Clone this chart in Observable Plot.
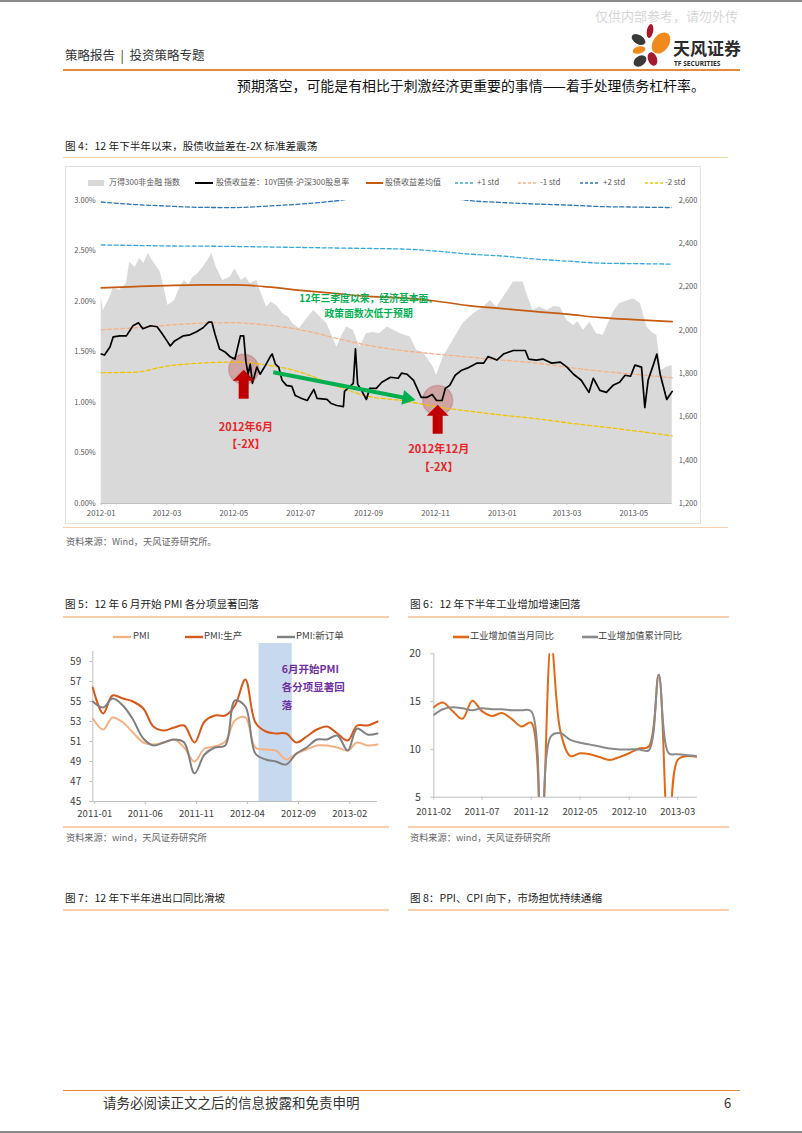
<!DOCTYPE html>
<html><head><meta charset="utf-8">
<script src="https://cdn.jsdelivr.net/npm/d3@7"></script>
<script src="https://cdn.jsdelivr.net/npm/@observablehq/plot@0.6"></script>
<style>
body{margin:0;background:#fff;}
#page{position:relative;width:802px;height:1133px;overflow:hidden;background:#fff;font-family:"Noto Sans CJK SC","Noto Sans",sans-serif;color:#333;}
.t{position:absolute;white-space:nowrap;line-height:1;}
.r{position:absolute;}
.plot{position:absolute;}
.plot svg{overflow:visible;}
</style></head><body><div id="page">
<div class="r" style="left:0;top:0;width:802px;height:2px;background:#8a8a8a"></div>
<div class="r" style="left:0;top:1131px;width:802px;height:2px;background:#8a8a8a"></div>
<div class="t" style="left:595px;top:9px;font-size:13px;color:#d6d6d6">仅供内部参考，请勿外传</div>
<svg class="r" style="left:628px;top:22px" width="115" height="50">
  <ellipse cx="22" cy="9" rx="3.2" ry="7" transform="rotate(10 22 9)" fill="#a6192e"/>
  <ellipse cx="10.5" cy="17.5" rx="7.5" ry="4.5" transform="rotate(30 10.5 17.5)" fill="#3a3a3a"/>
  <ellipse cx="33" cy="21" rx="8" ry="11.5" transform="rotate(35 33 21)" fill="#f08a1c"/>
  <ellipse cx="11" cy="28" rx="6.5" ry="3.5" transform="rotate(-15 11 28)" fill="#f08a1c"/>
  <ellipse cx="12" cy="39" rx="7" ry="5" transform="rotate(-35 12 39)" fill="#3a3a3a"/>
  <ellipse cx="24.5" cy="37" rx="4.5" ry="7" transform="rotate(-20 24.5 37)" fill="#a6192e"/>
  <text x="45" y="33" font-size="17" font-weight="bold" fill="#2b2b2b" font-family="Noto Sans CJK SC">天风证券</text>
  <text x="46" y="44" font-size="6.6" font-weight="bold" fill="#2b2b2b" font-family="Noto Sans">TF SECURITIES</text>
</svg>
<div class="t" style="left:65px;top:49px;font-size:12.5px;color:#333">策略报告 &nbsp;|&nbsp; 投资策略专题</div>
<div class="r" style="left:63px;top:69px;width:677px;height:1.6px;background:#e8893a"></div>
<div class="t" style="left:237px;top:79.4px;font-size:13.9px;color:#111">预期落空，可能是有相比于刺激经济更重要的事情——着手处理债务杠杆率。</div>

<div class="t" style="left:65px;top:141px;font-size:10.6px;color:#222">图 4：12 年下半年以来，股债收益差在-2X 标准差震荡</div>
<div class="r" style="left:63px;top:156.5px;width:665px;height:1.6px;background:#f7cfac"></div>
<div class="r" style="left:65px;top:166px;width:634px;height:356px;border:1px solid #e3e3e3"></div>
<div id="leg4"></div>
<div id="fig4" class="plot" style="left:66px;top:190px"></div>
<div class="r" style="left:63px;top:526.5px;width:665px;height:1.6px;background:#f7cfac"></div>
<div class="t" style="left:66px;top:537px;font-size:9.2px;color:#666">资料来源：Wind，天风证券研究所。</div>

<div class="t" style="left:65px;top:599px;font-size:10.6px;color:#222">图 5：12 年 6 月开始 PMI 各分项显著回落</div>
<div class="r" style="left:63px;top:616px;width:326px;height:1.6px;background:#f7cfac"></div>
<div class="t" style="left:410px;top:599px;font-size:10.6px;color:#222">图 6：12 年下半年工业增加增速回落</div>
<div class="r" style="left:408px;top:616px;width:321px;height:1.6px;background:#f7cfac"></div>
<div id="leg5"></div>
<div id="leg6"></div>
<div id="fig5" class="plot" style="left:55px;top:645px"></div>
<div id="fig6" class="plot" style="left:400px;top:645px"></div>
<div class="r" style="left:63px;top:826px;width:326px;height:1.6px;background:#f7cfac"></div>
<div class="r" style="left:408px;top:826px;width:321px;height:1.6px;background:#f7cfac"></div>
<div class="t" style="left:66px;top:833px;font-size:9.2px;color:#666">资料来源：wind，天风证券研究所</div>
<div class="t" style="left:410px;top:833px;font-size:9.2px;color:#666">资料来源：wind，天风证券研究所</div>

<div class="t" style="left:65px;top:893px;font-size:10.6px;color:#222">图 7：12 年下半年进出口同比滑坡</div>
<div class="r" style="left:63px;top:909px;width:326px;height:1.6px;background:#f7cfac"></div>
<div class="t" style="left:410px;top:893px;font-size:10.6px;color:#222">图 8：PPI、CPI 向下，市场担忧持续通缩</div>
<div class="r" style="left:408px;top:909px;width:321px;height:1.6px;background:#f7cfac"></div>

<div class="r" style="left:63px;top:1090px;width:677px;height:1.2px;background:#e8893a"></div>
<div class="t" style="left:103px;top:1096px;font-size:13.5px;color:#333">请务必阅读正文之后的信息披露和免责申明</div>
<div class="t" style="left:724px;top:1096px;font-size:13px;color:#333">6</div>
</div>
<script>
// ---------------- Figure 4 data ----------------
const idxDates = ["2012-01-01","2012-01-03","2012-01-09","2012-01-12","2012-01-18","2012-01-24","2012-01-27","2012-02-01","2012-02-05","2012-02-09","2012-02-13","2012-02-17","2012-02-21","2012-02-24","2012-03-02","2012-03-08","2012-03-13","2012-03-17","2012-03-21","2012-03-25","2012-03-29","2012-04-03","2012-04-07","2012-04-11","2012-04-15","2012-04-21","2012-04-28","2012-05-02","2012-05-08","2012-05-12","2012-05-16","2012-05-22","2012-05-25","2012-05-31","2012-06-04","2012-06-09","2012-06-15","2012-06-20","2012-06-24","2012-06-30","2012-07-06","2012-07-13","2012-07-19","2012-07-25","2012-08-03","2012-08-08","2012-08-12","2012-08-18","2012-08-24","2012-08-30","2012-09-05","2012-09-11","2012-09-18","2012-09-24","2012-09-30","2012-10-09","2012-10-15","2012-10-20","2012-10-24","2012-10-30","2012-11-02","2012-11-08","2012-11-17","2012-11-26","2012-12-02","2012-12-08","2012-12-15","2012-12-21","2012-12-27","2013-01-02","2013-01-07","2013-01-11","2013-01-20","2013-01-24","2013-01-29","2013-02-04","2013-02-11","2013-02-17","2013-02-23","2013-03-01","2013-03-07","2013-03-11","2013-03-16","2013-03-22","2013-03-28","2013-04-03","2013-04-09","2013-04-13","2013-04-18","2013-04-24","2013-05-01","2013-05-07","2013-05-13","2013-05-19","2013-05-22","2013-05-26","2013-05-31","2013-06-05"];
const idxValues = [2153,2092,2153,2193,2185,2216,2315,2290,2332,2310,2355,2320,2292,2269,2115,2138,2200,2230,2210,2246,2260,2292,2320,2356,2292,2230,2246,2284,2230,2245,2216,2230,2184,2107,2130,2115,2076,2060,2030,2007,2050,2092,2061,2030,1922,1980,2015,2000,1922,1984,1990,1984,2015,2000,1984,1969,1907,1900,1876,1830,1791,1876,1953,2030,2061,2085,2107,2138,2107,2153,2190,2223,2223,2160,2092,2107,2092,2110,2107,2046,2023,2040,2000,2038,1984,1977,2046,2090,2123,2135,2146,2123,2015,1984,1977,1815,1830,1838];

const spreadDates = ["2012-01-01","2012-01-04","2012-01-09","2012-01-12","2012-01-18","2012-01-24","2012-01-30","2012-02-04","2012-02-08","2012-02-15","2012-02-21","2012-02-25","2012-03-01","2012-03-04","2012-03-08","2012-03-16","2012-03-22","2012-03-28","2012-04-03","2012-04-08","2012-04-11","2012-04-14","2012-04-18","2012-04-23","2012-04-28","2012-05-02","2012-05-07","2012-05-10","2012-05-12","2012-05-14","2012-05-16","2012-05-18","2012-05-22","2012-05-25","2012-05-30","2012-06-03","2012-06-05","2012-06-08","2012-06-11","2012-06-14","2012-06-18","2012-06-23","2012-06-26","2012-07-02","2012-07-07","2012-07-13","2012-07-16","2012-07-25","2012-07-29","2012-08-03","2012-08-09","2012-08-10","2012-08-15","2012-08-18","2012-08-20","2012-08-22","2012-08-26","2012-08-30","2012-09-02","2012-09-08","2012-09-13","2012-09-21","2012-09-28","2012-10-01","2012-10-06","2012-10-12","2012-10-19","2012-10-24","2012-10-29","2012-11-02","2012-11-07","2012-11-10","2012-11-14","2012-11-19","2012-11-25","2012-11-30","2012-12-09","2012-12-15","2012-12-19","2012-12-27","2013-01-02","2013-01-11","2013-01-22","2013-01-25","2013-02-01","2013-02-07","2013-02-15","2013-02-23","2013-03-01","2013-03-07","2013-03-14","2013-03-21","2013-03-25","2013-03-31","2013-04-06","2013-04-12","2013-04-18","2013-04-23","2013-04-28","2013-05-02","2013-05-08","2013-05-11","2013-05-14","2013-05-19","2013-05-22","2013-05-25","2013-05-31","2013-06-05"];
const spreadValues = [1.48,1.47,1.55,1.65,1.66,1.66,1.76,1.79,1.73,1.76,1.75,1.69,1.61,1.56,1.61,1.66,1.67,1.70,1.74,1.795,1.795,1.67,1.53,1.50,1.45,1.43,1.66,1.66,1.41,1.28,1.38,1.19,1.35,1.28,1.37,1.45,1.48,1.38,1.35,1.22,1.17,1.16,1.07,1.04,1.02,1.13,1.04,1.03,0.99,0.97,0.96,1.11,1.16,1.19,1.53,1.18,1.11,1.03,1.14,1.14,1.20,1.25,1.24,1.29,1.28,1.22,1.05,1.05,1.08,1.02,1.02,1.14,1.17,1.27,1.32,1.34,1.39,1.39,1.455,1.42,1.48,1.515,1.515,1.43,1.42,1.43,1.39,1.40,1.35,1.28,1.22,1.10,1.24,1.12,1.10,1.17,1.20,1.27,1.26,1.37,1.35,0.95,1.22,1.38,1.48,1.28,1.03,1.11];

const bandDates = ["2012-01-01","2012-02-01","2012-03-01","2012-04-01","2012-05-01","2012-06-01","2012-07-01","2012-08-01","2012-09-01","2012-10-01","2012-11-01","2012-12-01","2013-01-01","2013-02-01","2013-03-01","2013-04-01","2013-05-01","2013-06-05"];
const meanValues   = [2.135,2.148,2.158,2.165,2.165,2.145,2.110,2.080,2.050,2.036,2.005,1.960,1.930,1.900,1.875,1.840,1.820,1.800];
const plus1Values  = [2.560,2.555,2.550,2.548,2.545,2.540,2.535,2.530,2.525,2.520,2.500,2.470,2.450,2.420,2.400,2.380,2.375,2.370];
const minus1Values = [1.720,1.740,1.765,1.785,1.790,1.765,1.720,1.640,1.565,1.515,1.480,1.450,1.420,1.390,1.350,1.310,1.280,1.245];
const plus2Values  = [2.985,2.960,2.945,2.932,2.930,2.945,2.965,2.995,3.040,3.070,3.050,3.000,2.980,2.965,2.955,2.940,2.935,2.930];
const minus2Values = [1.295,1.300,1.360,1.390,1.400,1.370,1.300,1.170,1.060,1.020,0.960,0.915,0.875,0.840,0.800,0.760,0.720,0.670];

const fig4XTicks = ["2012-01","2012-03","2012-05","2012-07","2012-09","2012-11","2013-01","2013-03","2013-05"];
const fig4LeftTicks = [0,0.5,1,1.5,2,2.5,3];
const fig4RightTicks = [1200,1400,1600,1800,2000,2200,2400,2600];
const fig4Markers = [
  {date:"2012-05-10", value:1.33, arrowBase:1.037, labelDate:"2012-05-12", labelValue:0.69, label:"2012年6月\n【-2X】"},
  {date:"2012-11-03", value:1.02, arrowBase:0.69, labelDate:"2012-11-04", labelValue:0.467, label:"2012年12月\n【-2X】"}
];
const fig4Trend = [{x1:"2012-06-06", y1:1.30, x2:"2012-10-06", y2:1.042}];
const fig4Note = [{date:"2012-09-01", value:1.97, text:"12年三季度以来，经济基本面、\n政策面数次低于预期"}];
const fig4Legend = ["万得300非金融 指数","股债收益差：10Y国债-沪深300股息率","股债收益差均值","+1 std","-1 std","+2 std","-2 std"];

// ---------------- Figure 5 data ----------------
const pmiMonths = ["2011-01","2011-02","2011-03","2011-04","2011-05","2011-06","2011-07","2011-08","2011-09","2011-10","2011-11","2011-12","2012-01","2012-02","2012-03","2012-04","2012-05","2012-06","2012-07","2012-08","2012-09","2012-10","2012-11","2012-12","2013-01","2013-02","2013-03","2013-04","2013-05"];
const pmiValues      = [53.3,52.2,53.4,52.9,51.9,50.9,50.7,50.9,51.2,50.4,49.0,50.3,50.5,51.0,53.1,53.4,50.4,50.2,50.1,49.2,49.8,50.2,50.6,50.6,50.4,50.1,50.9,50.6,50.7];
const pmiProdValues  = [56.4,53.8,55.6,55.3,55.0,54.3,52.5,52.1,52.4,52.6,50.9,53.0,53.6,53.6,54.6,57.2,52.9,52.0,51.8,51.8,50.9,51.5,52.2,52.5,51.8,51.1,52.6,52.6,53.0];
const pmiOrderValues = [55.0,54.4,55.3,54.6,53.2,51.3,50.6,50.9,51.2,50.9,47.8,49.7,50.4,50.6,55.1,54.5,49.8,49.2,49.0,48.7,49.8,50.4,51.2,51.2,51.6,50.1,52.3,51.7,51.8];
const pmiSeriesNames = ["PMI","PMI:生产","PMI:新订单"];
const fig5Band = [{x1:"2012-05-12", x2:"2012-08-19", y1:45, y2:60.8}];
const fig5Note = [{date:"2012-07-19", value:56.6, text:"6月开始PMI\n各分项显著回\n落"}];
const fig5XTicks = ["2011-01","2011-06","2011-11","2012-04","2012-09","2013-02"];
const fig5YTicks = [45,47,49,51,53,55,57,59];

// ---------------- Figure 6 data ----------------
const ipMonths = ["2011-02","2011-03","2011-04","2011-05","2011-06","2011-07","2011-08","2011-09","2011-10","2011-11","2011-12","2012-01","2012-02","2012-03","2012-04","2012-05","2012-06","2012-07","2012-08","2012-09","2012-10","2012-11","2012-12","2013-01","2013-02","2013-03","2013-04","2013-05"];
const ipMonthlyValues    = [14.4,14.9,14.0,13.2,15.1,14.0,13.5,13.8,13.2,12.4,12.8,0,21.3,11.9,9.3,9.6,9.5,9.2,8.9,9.2,9.6,10.1,10.3,17.8,0,8.9,9.3,9.2];
const ipCumulativeValues = [13.6,14.2,14.4,14.3,14.1,14.3,14.2,14.2,14.1,14.1,14.0,0,11.4,11.7,11.0,10.7,10.5,10.3,10.1,10.0,10.0,10.0,9.9,17.8,9.6,9.5,9.4,9.3];
const ipSeriesNames = ["工业增加值当月同比","工业增加值累计同比"];
const fig6XTicks = ["2011-02","2011-07","2011-12","2012-05","2012-10","2013-03"];
const fig6YTicks = [5,10,15,20];

// ---------------- helpers ----------------
const parse = s => new Date(s.length === 7 ? s + "-01" : s);
const FONT = '"Noto Sans CJK SC","Noto Sans",sans-serif';
const page = document.getElementById("page");
function addText(left, centerY, size, text, color){
  const d = document.createElement("div");
  d.className = "t";
  d.style.cssText = `left:${left}px;top:${centerY - 0.55*size}px;font-size:${size}px;color:${color}`;
  d.textContent = text;
  page.appendChild(d);
}
function addSwatch(left, centerY, w, kind, color){
  const s = document.createElementNS("http://www.w3.org/2000/svg","svg");
  s.setAttribute("width", w); s.setAttribute("height", 8);
  s.style.cssText = `position:absolute;left:${left}px;top:${centerY-4}px`;
  if (kind === "rect") s.innerHTML = `<rect x="0" y="1" width="${w}" height="6" fill="${color}"/>`;
  else if (kind === "dash") s.innerHTML = `<line x1="0" x2="${w}" y1="4" y2="4" stroke="${color}" stroke-width="1.5" stroke-dasharray="3,2"/>`;
  else s.innerHTML = `<line x1="0" x2="${w}" y1="4" y2="4" stroke="${color}" stroke-width="${kind}"/>`;
  page.appendChild(s);
}

// ---------------- Figure 4 ----------------
const C4 = {idx:"#d9d9d9", spread:"#000000", mean:"#c55a11", p1:"#35a8e0", m1:"#f4b183", p2:"#2e75b6", m2:"#f2c200"};
const rMin = fig4RightTicks[0], rMax = fig4RightTicks[fig4RightTicks.length-1];
const lMax = fig4LeftTicks[fig4LeftTicks.length-1];
const idxToLeft = v => (v - rMin) / (rMax - rMin) * lMax;
const leftToIdx = p => rMin + p / lMax * (rMax - rMin);
const idx = idxDates.map((d,i)=>({date:parse(d), v:idxToLeft(idxValues[i])}));
const spread = spreadDates.map((d,i)=>({date:parse(d), v:spreadValues[i]}));
const bands = bandDates.map((d,i)=>({date:parse(d), mean:meanValues[i], p1:plus1Values[i], m1:minus1Values[i], p2:plus2Values[i], m2:minus2Values[i]}));
const markers = fig4Markers.map(d=>({...d, date:parse(d.date), labelDate:parse(d.labelDate)}));
const trend = fig4Trend.map(d=>({...d, x1:parse(d.x1), x2:parse(d.x2)}));
const note4 = fig4Note.map(d=>({...d, date:parse(d.date)}));
const blockArrow = {draw(ctx, l){
  const w = 5, hw = 11, hh = 11;
  ctx.moveTo(-w, 0); ctx.lineTo(-w, -(l-hh)); ctx.lineTo(-hw, -(l-hh)); ctx.lineTo(0, -l);
  ctx.lineTo(hw, -(l-hh)); ctx.lineTo(w, -(l-hh)); ctx.lineTo(w, 0); ctx.closePath();
}};
const dash = "4,2.5";
const fig4 = Plot.plot({
  width: 634, height: 333,
  marginLeft: 34.7, marginRight: 28.3, marginTop: 10, marginBottom: 20,
  style: {fontFamily: FONT, background: "transparent", overflow: "visible"},
  x: {type: "utc", domain: [parse("2012-01-01"), parse("2013-06-05")], label: null},
  y: {domain: [0, lMax], label: null},
  marks: [
    Plot.areaY(idx, {x: "date", y: "v", fill: C4.idx}),
    Plot.ruleY([0], {stroke: "#bfbfbf"}),
    Plot.axisX({ticks: fig4XTicks.map(parse), tickFormat: d3.utcFormat("%Y-%m"), tickSize: 2, tickPadding: 5, stroke: "#bfbfbf", fill: "#595959", fontSize: 7.8}),
    Plot.axisY({ticks: fig4LeftTicks, tickFormat: d => d.toFixed(2) + "%", tickSize: 0, tickPadding: 5.5, fill: "#595959", fontSize: 7.5}),
    Plot.axisY({anchor: "right", ticks: fig4RightTicks.map(idxToLeft), tickFormat: d => d3.format(",")(Math.round(leftToIdx(d))), tickSize: 0, tickPadding: 6.5, fill: "#595959", fontSize: 7.5}),
    Plot.dot(markers, {x: "date", y: "value", r: 15, fill: "#c0504d", fillOpacity: 0.38, stroke: "#b04040", strokeOpacity: 0.25}),
    Plot.line(bands, {x: "date", y: "p2", stroke: C4.p2, strokeWidth: 1.3, strokeDasharray: dash, curve: "monotone-x", clip: true}),
    Plot.line(bands, {x: "date", y: "p1", stroke: C4.p1, strokeWidth: 1.3, strokeDasharray: dash, curve: "monotone-x"}),
    Plot.line(bands, {x: "date", y: "mean", stroke: C4.mean, strokeWidth: 1.7, curve: "monotone-x"}),
    Plot.line(bands, {x: "date", y: "m1", stroke: C4.m1, strokeWidth: 1.3, strokeDasharray: dash, curve: "monotone-x"}),
    Plot.line(bands, {x: "date", y: "m2", stroke: C4.m2, strokeWidth: 1.3, strokeDasharray: dash, curve: "monotone-x"}),
    Plot.line(spread, {x: "date", y: "v", stroke: C4.spread, strokeWidth: 1.7}),
    Plot.link(trend, {x1: "x1", y1: "y1", x2: "x2", y2: "y2", stroke: "#00b050", strokeWidth: 4}),
    Plot.dot(trend, {x: "x2", y: "y2", symbol: "triangle", r: 5.6, rotate: 101, fill: "#00b050", stroke: "none"}),
    Plot.vector(markers, {x: "date", y: "arrowBase", length: 29, anchor: "start", shape: blockArrow, fill: "#c00000", stroke: "none"}),
    Plot.text(markers, {x: "labelDate", y: "labelValue", text: "label", fill: "#e5262b", fontWeight: "bold", fontSize: 11, lineHeight: 1.6}),
    Plot.text(note4, {x: "date", y: "value", text: "text", fill: "#00b050", fontWeight: "bold", fontSize: 9.8, lineHeight: 1.6})
  ]
});
document.getElementById("fig4").appendChild(fig4);

// legend 4
const leg4Y = 182.7;
const leg4Spec = [
  {sw: 88, w: 16, kind: "rect", color: C4.idx, tx: 109},
  {sw: 195, w: 18, kind: 2, color: C4.spread, tx: 216},
  {sw: 366, w: 17, kind: 2, color: C4.mean, tx: 385},
  {sw: 455, w: 18, kind: "dash", color: C4.p1, tx: 477},
  {sw: 518, w: 20, kind: "dash", color: C4.m1, tx: 540},
  {sw: 580, w: 19, kind: "dash", color: C4.p2, tx: 603},
  {sw: 645, w: 18, kind: "dash", color: C4.m2, tx: 665}
];
leg4Spec.forEach((s,i)=>{ addSwatch(s.sw, leg4Y, s.w, s.kind, s.color); addText(s.tx, leg4Y, 8, fig4Legend[i], "#595959"); });

// ---------------- Figure 5 ----------------
const C5 = ["#f4b183", "#d8581a", "#7f7f7f"];
const pmiRows = [];
[pmiValues, pmiProdValues, pmiOrderValues].forEach((arr, s) => arr.forEach((v, i) => pmiRows.push({date: parse(pmiMonths[i]), v, s: pmiSeriesNames[s]})));
const band5 = fig5Band.map(d=>({...d, x1: parse(d.x1), x2: parse(d.x2)}));
const note5 = fig5Note.map(d=>({...d, date: parse(d.date)}));
const fig5 = Plot.plot({
  width: 330, height: 180,
  marginLeft: 37.3, marginRight: 8, marginTop: 6, marginBottom: 24,
  style: {fontFamily: FONT, background: "transparent", overflow: "visible"},
  x: {type: "utc", domain: [parse(pmiMonths[0]), parse(pmiMonths[pmiMonths.length-1])], label: null},
  y: {domain: [45, 60], label: null},
  color: {domain: pmiSeriesNames, range: C5},
  marks: [
    Plot.rect(band5, {x1: "x1", x2: "x2", y1: "y1", y2: "y2", fill: "#c6d9ef"}),
    Plot.ruleY([45], {stroke: "#bfbfbf"}),
    Plot.ruleX([parse(pmiMonths[0])], {stroke: "#bfbfbf"}),
    Plot.axisX({ticks: fig5XTicks.map(parse), tickFormat: d3.utcFormat("%Y-%m"), tickSize: 3, tickPadding: 5.6, dx: 2, stroke: "#bfbfbf", fill: "#404040", fontSize: 9.5}),
    Plot.axisY({ticks: fig5YTicks, tickSize: 3, tickPadding: 8.6, stroke: "#bfbfbf", fill: "#404040", fontSize: 10}),
    Plot.line(pmiRows, {x: "date", y: "v", z: "s", stroke: "s", strokeWidth: 2, curve: "catmull-rom"}),
    Plot.text(note5, {x: "date", y: "value", text: "text", textAnchor: "start", fill: "#7030a0", fontWeight: "bold", fontSize: 10.5, lineHeight: 1.7})
  ]
});
document.getElementById("fig5").appendChild(fig5);
const leg5Y = 636.5;
[{sw: 113, tx: 133}, {sw: 185, tx: 204}, {sw: 277, tx: 296}].forEach((s,i)=>{ addSwatch(s.sw, leg5Y, 18, 2.4, C5[i]); addText(s.tx, leg5Y, 9.5, pmiSeriesNames[i], "#404040"); });

// ---------------- Figure 6 ----------------
const C6 = ["#e0691a", "#8a8a8a"];
const ipRows = [];
[ipMonthlyValues, ipCumulativeValues].forEach((arr, s) => arr.forEach((v, i) => ipRows.push({date: parse(ipMonths[i]), v, s: ipSeriesNames[s]})));
const fig6 = Plot.plot({
  width: 340, height: 180,
  marginLeft: 33.3, marginRight: 43.2, marginTop: 8.3, marginBottom: 28.3,
  style: {fontFamily: FONT, background: "transparent", overflow: "visible"},
  x: {type: "utc", domain: [parse(ipMonths[0]), parse(ipMonths[ipMonths.length-1])], label: null},
  y: {domain: [5, 20], label: null},
  color: {domain: ipSeriesNames, range: C6},
  marks: [
    Plot.ruleY([5], {stroke: "#bfbfbf"}),
    Plot.ruleX([parse(ipMonths[0])], {stroke: "#bfbfbf"}),
    Plot.axisX({ticks: fig6XTicks.map(parse), tickFormat: d3.utcFormat("%Y-%m"), tickSize: 3, tickPadding: 7.6, stroke: "#bfbfbf", fill: "#404040", fontSize: 9.5}),
    Plot.axisY({ticks: fig6YTicks, tickSize: 3, tickPadding: 10, stroke: "#bfbfbf", fill: "#404040", fontSize: 10.5}),
    Plot.line(ipRows, {x: "date", y: "v", z: "s", stroke: "s", strokeWidth: 2, curve: "catmull-rom", clip: true})
  ]
});
document.getElementById("fig6").appendChild(fig6);
const leg6Y = 636.5;
[{sw: 453, tx: 470}, {sw: 582, tx: 598}].forEach((s,i)=>{ addSwatch(s.sw, leg6Y, 16, 2.6, C6[i]); addText(s.tx, leg6Y, 9.3, ipSeriesNames[i], "#404040"); });
</script>
</body></html>
